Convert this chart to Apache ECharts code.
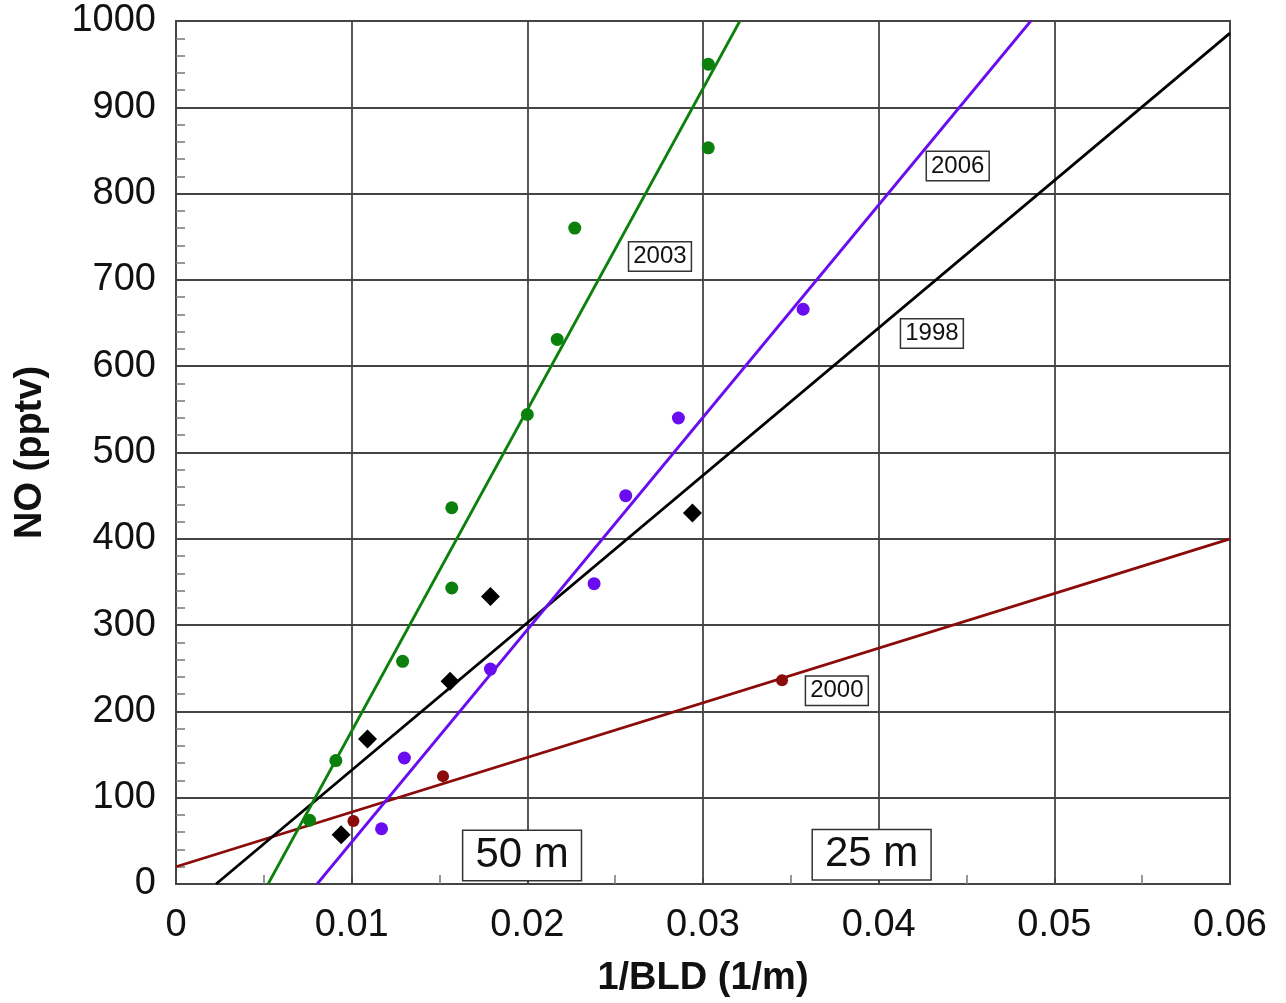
<!DOCTYPE html>
<html>
<head>
<meta charset="utf-8">
<script src="https://cdn.jsdelivr.net/npm/echarts@6/dist/echarts.min.js"></script>
<style>html,body{margin:0;padding:0;background:#fff}#c{width:1286px;height:1003px}</style>
</head>
<body>
<div id="c"></div>
<script>
// Data points (x = 1/BLD in 1/m, y = NO in pptv)
const pts1998 = [[0.0094, 57], [0.0109, 168], [0.0156, 235], [0.0179, 333], [0.0294, 430]];
const pts2000 = [[0.0101, 73], [0.0152, 125], [0.0345, 236]];
const pts2003 = [[0.0076, 74], [0.0091, 143], [0.0129, 258], [0.0157, 343], [0.0157, 436],
                 [0.0200, 544], [0.0217, 631], [0.0227, 760], [0.0303, 853], [0.0303, 950]];
const pts2006 = [[0.0117, 64], [0.0130, 146], [0.0179, 249], [0.0238, 348], [0.0256, 450],
                 [0.0286, 540], [0.0357, 666]];
// Fit line endpoints
const fit1998 = [[0.00228, 0], [0.06, 986]];
const fit2000 = [[0, 20], [0.06, 400]];
const fit2003 = [[0.00524, 0], [0.0321, 1000]];
const fit2006 = [[0.00803, 0], [0.04866, 1000]];
// Annotation labels
const yearLabels = [[0.02755, 727, '2003'], [0.0445, 832, '2006'], [0.04303, 638, '1998'], [0.03762, 224, '2000']];
const heightLabels = [[0.0197, 33, '50 m'], [0.0396, 34, '25 m']];
const xTicks = [0, 0.01, 0.02, 0.03, 0.04, 0.05, 0.06];
const yTicks = [0, 100, 200, 300, 400, 500, 600, 700, 800, 900, 1000];

const C1998 = '#000000', C2000 = '#8b0a0a', C2003 = '#0c800c', C2006 = '#6a0cf0';
const FONT = 'Liberation Sans, Arial, sans-serif';

const chart = echarts.init(document.getElementById('c'), null, {renderer: 'canvas'});

function fitLine(data, color) {
  return {type: 'line', data: data, symbol: 'none', silent: true, z: 3,
    lineStyle: {color: color, width: 2.8}, animation: false};
}
function scat(data, color, symbol, size) {
  return {type: 'scatter', data: data, symbol: symbol, symbolSize: size, z: 4,
    itemStyle: {color: color, opacity: 1}, animation: false};
}

chart.setOption({
  animation: false,
  grid: {left: 176, right: 56, top: 21, bottom: 117, show: true, borderColor: '#444', borderWidth: 2},
  xAxis: {
    type: 'value', min: xTicks[0], max: xTicks[xTicks.length - 1], interval: 0.01,
    name: '1/BLD (1/m)', nameLocation: 'middle', nameGap: 76,
    nameTextStyle: {fontFamily: FONT, fontSize: 38, fontWeight: 'bold', color: '#111'},
    axisLine: {lineStyle: {color: '#444', width: 2}},
    axisTick: {show: true, inside: true, length: 6, lineStyle: {color: '#444', width: 1.5}},
    minorTick: {show: true, splitNumber: 2, length: 9, lineStyle: {color: '#777', width: 1.5}},
    splitLine: {show: true, lineStyle: {color: '#444', width: 1.8}},
    axisLabel: {fontFamily: FONT, fontSize: 38, color: '#111', margin: 23,
      formatter: v => (Math.round(v * 100) / 100).toString()}
  },
  yAxis: {
    type: 'value', min: yTicks[0], max: yTicks[yTicks.length - 1], interval: 100,
    name: 'NO (pptv)', nameLocation: 'middle', nameGap: 126, nameRotate: 90,
    nameTextStyle: {fontFamily: FONT, fontSize: 38, fontWeight: 'bold', color: '#111'},
    axisLine: {show: true, lineStyle: {color: '#444', width: 2}},
    axisTick: {show: true, inside: true, length: 6, lineStyle: {color: '#444', width: 1.5}},
    minorTick: {show: true, splitNumber: 5, length: 9, lineStyle: {color: '#777', width: 1.5}},
    splitLine: {show: true, lineStyle: {color: '#444', width: 1.8}},
    axisLabel: {fontFamily: FONT, fontSize: 38, color: '#111', margin: 20,
      formatter: v => String(v)}
  },
  series: [
    fitLine(fit2000, C2000),
    fitLine(fit1998, C1998),
    fitLine(fit2006, C2006),
    fitLine(fit2003, C2003),
    scat(pts2000, C2000, 'circle', 12),
    scat(pts2006, C2006, 'circle', 13),
    scat(pts2003, C2003, 'circle', 13),
    scat(pts1998, C1998, 'diamond', 19),
    {
      type: 'scatter', symbolSize: 0, z: 6, silent: true, animation: false,
      itemStyle: {opacity: 1},
      data: yearLabels.map(d => ({value: [d[0], d[1]], name: d[2]})),
      label: {show: true, position: 'inside', formatter: p => p.name,
        fontFamily: FONT, fontSize: 24, color: '#111', backgroundColor: '#fff',
        borderColor: '#333', borderWidth: 1.5, padding: [3, 4, 1, 4]}
    },
    {
      type: 'scatter', symbolSize: 0, z: 6, silent: true, animation: false,
      itemStyle: {opacity: 1},
      data: heightLabels.map(d => ({value: [d[0], d[1]], name: d[2]})),
      label: {show: true, position: 'inside', formatter: p => p.name,
        fontFamily: FONT, fontSize: 42, color: '#111', backgroundColor: '#fff',
        borderColor: '#333', borderWidth: 1.5, padding: [5, 12, 2, 12]}
    }
  ]
});
</script>
</body>
</html>
